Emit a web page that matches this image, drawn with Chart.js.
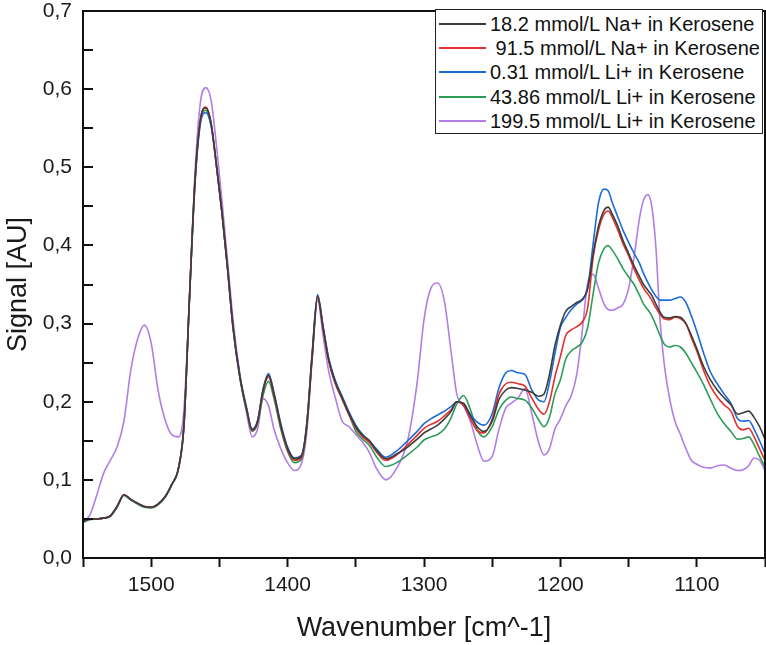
<!DOCTYPE html>
<html lang="en">
<head>
<meta charset="UTF-8">
<title>Signal vs Wavenumber</title>
<script src="https://cdn.jsdelivr.net/npm/chart.js@4.4.0/dist/chart.umd.min.js"></script>
<style>
    html, body { margin: 0; padding: 0; background: #fff; }
    .wrap { position: relative; width: 766px; height: 645px; }
    #legend {
        position: absolute; left: 435px; top: 9px; width: 328px; height: 125px;
        box-sizing: border-box; border: 1px solid #222; background: #fff;
        font-family: "Liberation Sans", Arial, sans-serif; font-size: 20px; color: #111;
    }
    .row { position: absolute; left: 0; height: 24px; line-height: 24px; white-space: pre; }
    .row span.swatch { position: absolute; left: 3px; top: 11px; width: 47px; height: 2px; }
    .row span.txt { position: absolute; left: 54px; top: 0; }
</style>
</head>
<body>
<div class="wrap">
    <canvas id="chart" width="766" height="645"></canvas>
    <div id="legend"></div>
</div>
<script>
// wavenumber grid (cm^-1), shared by all series
const wavenumbers = [
    1550, 1545, 1540, 1535, 1530, 1525, 1520, 1515, 1510, 1505,
    1500, 1495, 1490, 1485, 1480, 1476, 1472, 1468, 1464, 1460,
    1456, 1452, 1448, 1444, 1440, 1435, 1430, 1426, 1422, 1418,
    1414, 1410, 1405, 1400, 1395, 1390, 1386, 1382, 1378, 1374,
    1370, 1365, 1360, 1355, 1350, 1345, 1340, 1335, 1328, 1320,
    1312, 1305, 1300, 1295, 1290, 1285, 1280, 1276, 1271, 1266,
    1261, 1256, 1250, 1245, 1240, 1236, 1231, 1226, 1221, 1216,
    1212, 1208, 1204, 1200, 1196, 1192, 1188, 1184, 1180, 1176,
    1172, 1168, 1165, 1162, 1158, 1154, 1150, 1146, 1142, 1139,
    1136, 1133, 1130, 1127, 1124, 1120, 1116, 1112, 1108, 1104,
    1100, 1095, 1090, 1085, 1080, 1075, 1070, 1066, 1062, 1058, 1054, 1050
];

const na18 = [
    0.046, 0.050, 0.050, 0.051, 0.054, 0.066, 0.081, 0.075, 0.070, 0.066,
    0.065, 0.069, 0.078, 0.094, 0.115, 0.170, 0.330, 0.480, 0.560, 0.576,
    0.555, 0.500, 0.440, 0.370, 0.295, 0.232, 0.190, 0.164, 0.175, 0.215,
    0.234, 0.210, 0.170, 0.140, 0.127, 0.130, 0.170, 0.260, 0.335, 0.295,
    0.255, 0.225, 0.205, 0.185, 0.168, 0.157, 0.150, 0.138, 0.127, 0.133,
    0.142, 0.152, 0.160, 0.165, 0.170, 0.178, 0.188, 0.200, 0.198, 0.182,
    0.168, 0.162, 0.175, 0.203, 0.215, 0.218, 0.217, 0.215, 0.212, 0.207,
    0.210, 0.235, 0.272, 0.298, 0.316, 0.322, 0.327, 0.331, 0.345, 0.389,
    0.425, 0.445, 0.449, 0.440, 0.425, 0.406, 0.390, 0.374, 0.360, 0.350,
    0.343, 0.336, 0.325, 0.315, 0.308, 0.307, 0.309, 0.308, 0.300, 0.285,
    0.268, 0.245, 0.228, 0.215, 0.205, 0.196, 0.184, 0.186, 0.188, 0.180, 0.168, 0.152
];

const na91 = [
    0.046, 0.050, 0.050, 0.051, 0.054, 0.066, 0.081, 0.075, 0.070, 0.066,
    0.065, 0.069, 0.078, 0.094, 0.115, 0.170, 0.330, 0.480, 0.560, 0.577,
    0.556, 0.500, 0.440, 0.370, 0.295, 0.232, 0.190, 0.163, 0.174, 0.213,
    0.232, 0.208, 0.168, 0.138, 0.125, 0.128, 0.168, 0.258, 0.335, 0.293,
    0.253, 0.223, 0.203, 0.183, 0.166, 0.155, 0.148, 0.136, 0.125, 0.132,
    0.145, 0.157, 0.166, 0.171, 0.175, 0.182, 0.190, 0.200, 0.195, 0.178,
    0.163, 0.160, 0.178, 0.210, 0.223, 0.225, 0.223, 0.220, 0.205, 0.190,
    0.184, 0.200, 0.232, 0.258, 0.285, 0.292, 0.296, 0.302, 0.320, 0.385,
    0.420, 0.440, 0.444, 0.436, 0.420, 0.402, 0.387, 0.370, 0.355, 0.345,
    0.338, 0.330, 0.320, 0.312, 0.306, 0.305, 0.308, 0.306, 0.300, 0.282,
    0.265, 0.240, 0.220, 0.206, 0.196, 0.188, 0.168, 0.164, 0.166, 0.155, 0.140, 0.125
];

const li031 = [
    0.046, 0.050, 0.050, 0.051, 0.054, 0.066, 0.081, 0.075, 0.070, 0.066,
    0.065, 0.069, 0.078, 0.094, 0.115, 0.170, 0.330, 0.475, 0.555, 0.570,
    0.552, 0.500, 0.440, 0.372, 0.297, 0.234, 0.192, 0.165, 0.176, 0.216,
    0.236, 0.212, 0.172, 0.142, 0.128, 0.131, 0.171, 0.262, 0.337, 0.297,
    0.257, 0.227, 0.207, 0.187, 0.170, 0.158, 0.150, 0.140, 0.129, 0.137,
    0.150, 0.162, 0.172, 0.178, 0.183, 0.188, 0.194, 0.200, 0.196, 0.184,
    0.174, 0.170, 0.185, 0.218, 0.237, 0.240, 0.237, 0.235, 0.215, 0.202,
    0.200, 0.225, 0.262, 0.295, 0.308, 0.318, 0.325, 0.330, 0.345, 0.402,
    0.455, 0.472, 0.470, 0.455, 0.437, 0.419, 0.404, 0.390, 0.377, 0.364,
    0.353, 0.343, 0.335, 0.330, 0.330, 0.330, 0.332, 0.334, 0.327, 0.310,
    0.290, 0.262, 0.238, 0.223, 0.210, 0.198, 0.178, 0.175, 0.176, 0.165, 0.150, 0.134
];

const li4386 = [
    0.046, 0.049, 0.050, 0.051, 0.053, 0.065, 0.080, 0.074, 0.069, 0.065,
    0.064, 0.068, 0.077, 0.093, 0.114, 0.168, 0.330, 0.478, 0.558, 0.573,
    0.553, 0.500, 0.440, 0.370, 0.294, 0.230, 0.188, 0.162, 0.172, 0.208,
    0.226, 0.204, 0.165, 0.136, 0.122, 0.126, 0.166, 0.256, 0.333, 0.295,
    0.255, 0.224, 0.204, 0.184, 0.162, 0.152, 0.144, 0.130, 0.117, 0.122,
    0.132, 0.142, 0.151, 0.155, 0.158, 0.165, 0.180, 0.197, 0.208, 0.190,
    0.164, 0.155, 0.168, 0.190, 0.202, 0.206, 0.204, 0.202, 0.192, 0.177,
    0.168, 0.180, 0.210, 0.228, 0.255, 0.265, 0.270, 0.276, 0.295, 0.338,
    0.378, 0.396, 0.400, 0.394, 0.383, 0.370, 0.360, 0.350, 0.336, 0.325,
    0.318, 0.310, 0.298, 0.285, 0.274, 0.270, 0.272, 0.270, 0.262, 0.250,
    0.238, 0.222, 0.203, 0.185, 0.172, 0.162, 0.152, 0.153, 0.155, 0.145, 0.130, 0.117
];

const li1995 = [
    0.046, 0.055, 0.080, 0.108, 0.125, 0.142, 0.175, 0.240, 0.280, 0.298,
    0.275, 0.215, 0.178, 0.158, 0.155, 0.190, 0.330, 0.490, 0.582, 0.602,
    0.585, 0.525, 0.455, 0.380, 0.305, 0.235, 0.185, 0.155, 0.165, 0.204,
    0.195, 0.165, 0.140, 0.122, 0.112, 0.120, 0.160, 0.255, 0.330, 0.285,
    0.240, 0.205, 0.175, 0.168, 0.158, 0.148, 0.135, 0.115, 0.100, 0.115,
    0.150, 0.225, 0.305, 0.345, 0.352, 0.328, 0.262, 0.210, 0.195, 0.175,
    0.145, 0.124, 0.130, 0.165, 0.192, 0.198, 0.205, 0.217, 0.185, 0.148,
    0.132, 0.140, 0.165, 0.178, 0.195, 0.208, 0.235, 0.290, 0.352, 0.363,
    0.345, 0.325, 0.318, 0.317, 0.320, 0.325, 0.345, 0.385, 0.435, 0.458,
    0.465, 0.450, 0.398, 0.305, 0.250, 0.205, 0.175, 0.158, 0.140, 0.125,
    0.120, 0.116, 0.115, 0.118, 0.119, 0.115, 0.112, 0.113, 0.118, 0.128, 0.125, 0.112
];

const seriesLabels = [
    '18.2 mmol/L Na+ in Kerosene',
    ' 91.5 mmol/L Na+ in Kerosene',
    '0.31 mmol/L Li+ in Kerosene',
    '43.86 mmol/L Li+ in Kerosene',
    '199.5 mmol/L Li+ in Kerosene'
];
const seriesValues = [na18, na91, li031, li4386, li1995];
const seriesColors = ['#3c3c3c', '#e2302c', '#1c6cd4', '#2b9d57', '#b27de6'];

// axis ticks
const xTickValues = [1550, 1500, 1450, 1400, 1350, 1300, 1250, 1200, 1150, 1100, 1050];
const xLabelValues = [1500, 1400, 1300, 1200, 1100];
const yTickValues = [0, 0.05, 0.1, 0.15, 0.2, 0.25, 0.3, 0.35, 0.4, 0.45, 0.5, 0.55, 0.6, 0.65, 0.7];
const yLabelValues = [0, 0.1, 0.2, 0.3, 0.4, 0.5, 0.6, 0.7];

const FONT = '"Liberation Sans", Arial, sans-serif';

// box frame plus inward ticks on the y axis
const framePlugin = {
    id: 'frame',
    afterDraw(chart) {
        const { ctx, chartArea: a, scales: { y } } = chart;
        ctx.save();
        ctx.strokeStyle = '#111';
        ctx.lineWidth = 2;
        ctx.strokeRect(a.left, a.top, a.right - a.left, a.bottom - a.top);
        ctx.beginPath();
        yTickValues.forEach(v => {
            const py = Math.round(y.getPixelForValue(v));
            ctx.moveTo(a.left, py);
            ctx.lineTo(a.left + 10, py);
        });
        ctx.stroke();
        ctx.restore();
    }
};

new Chart(document.getElementById('chart'), {
    type: 'line',
    data: {
        datasets: seriesValues.map((vals, i) => ({
            label: seriesLabels[i],
            data: wavenumbers.map((w, j) => ({ x: w, y: vals[j] })),
            borderColor: seriesColors[i],
            borderWidth: 1.6,
            pointRadius: 0,
            cubicInterpolationMode: 'monotone',
            fill: false
        }))
    },
    options: {
        responsive: false,
        animation: false,
        layout: { padding: { top: 11, right: 1, left: 0, bottom: 0 } },
        plugins: { legend: { display: false }, tooltip: { enabled: false } },
        scales: {
            x: {
                type: 'linear',
                reverse: true,
                min: 1050,
                max: 1550,
                afterBuildTicks: s => { s.ticks = xTickValues.map(v => ({ value: v })); },
                afterFit: s => { s.height = 87; s.paddingLeft = 0; s.paddingRight = 0; },
                ticks: {
                    autoSkip: false,
                    maxRotation: 0,
                    padding: 8,
                    color: '#1a1a1a',
                    font: { family: FONT, size: 21, lineHeight: 1 },
                    callback: v => xLabelValues.includes(v) ? String(v) : ''
                },
                grid: {
                    drawOnChartArea: false,
                    drawTicks: true,
                    tickLength: 9,
                    tickWidth: 2,
                    tickColor: '#111'
                },
                border: { display: true, color: '#111', width: 2 },
                title: {
                    display: true,
                    text: 'Wavenumber [cm^-1]',
                    color: '#1a1a1a',
                    font: { family: FONT, size: 27 },
                    padding: { top: 0, bottom: 0 }
                }
            },
            y: {
                min: 0,
                max: 0.7,
                afterBuildTicks: s => { s.ticks = yLabelValues.map(v => ({ value: v })); },
                afterFit: s => { s.width = 83; s.paddingTop = 0; s.paddingBottom = 0; },
                ticks: {
                    padding: 11,
                    color: '#1a1a1a',
                    font: { family: FONT, size: 21, lineHeight: 1 },
                    callback: v => v.toFixed(1).replace('.', ',')
                },
                grid: { display: false, drawTicks: false },
                border: { display: true, color: '#111', width: 2 },
                title: {
                    display: true,
                    text: 'Signal [AU]',
                    color: '#1a1a1a',
                    font: { family: FONT, size: 27 },
                    padding: { top: 2, bottom: 0 }
                }
            }
        }
    },
    plugins: [framePlugin]
});

// legend box inside the plot, top right
const legend = document.getElementById('legend');
const rowTops = [11, 35, 59, 84, 108];
seriesLabels.forEach((label, i) => {
    const row = document.createElement('div');
    row.className = 'row';
    row.style.top = (rowTops[i] - 9) + 'px';
    const sw = document.createElement('span');
    sw.className = 'swatch';
    sw.style.background = seriesColors[i];
    const txt = document.createElement('span');
    txt.className = 'txt';
    txt.textContent = label;
    row.appendChild(sw);
    row.appendChild(txt);
    legend.appendChild(row);
});
</script>
</body>
</html>
